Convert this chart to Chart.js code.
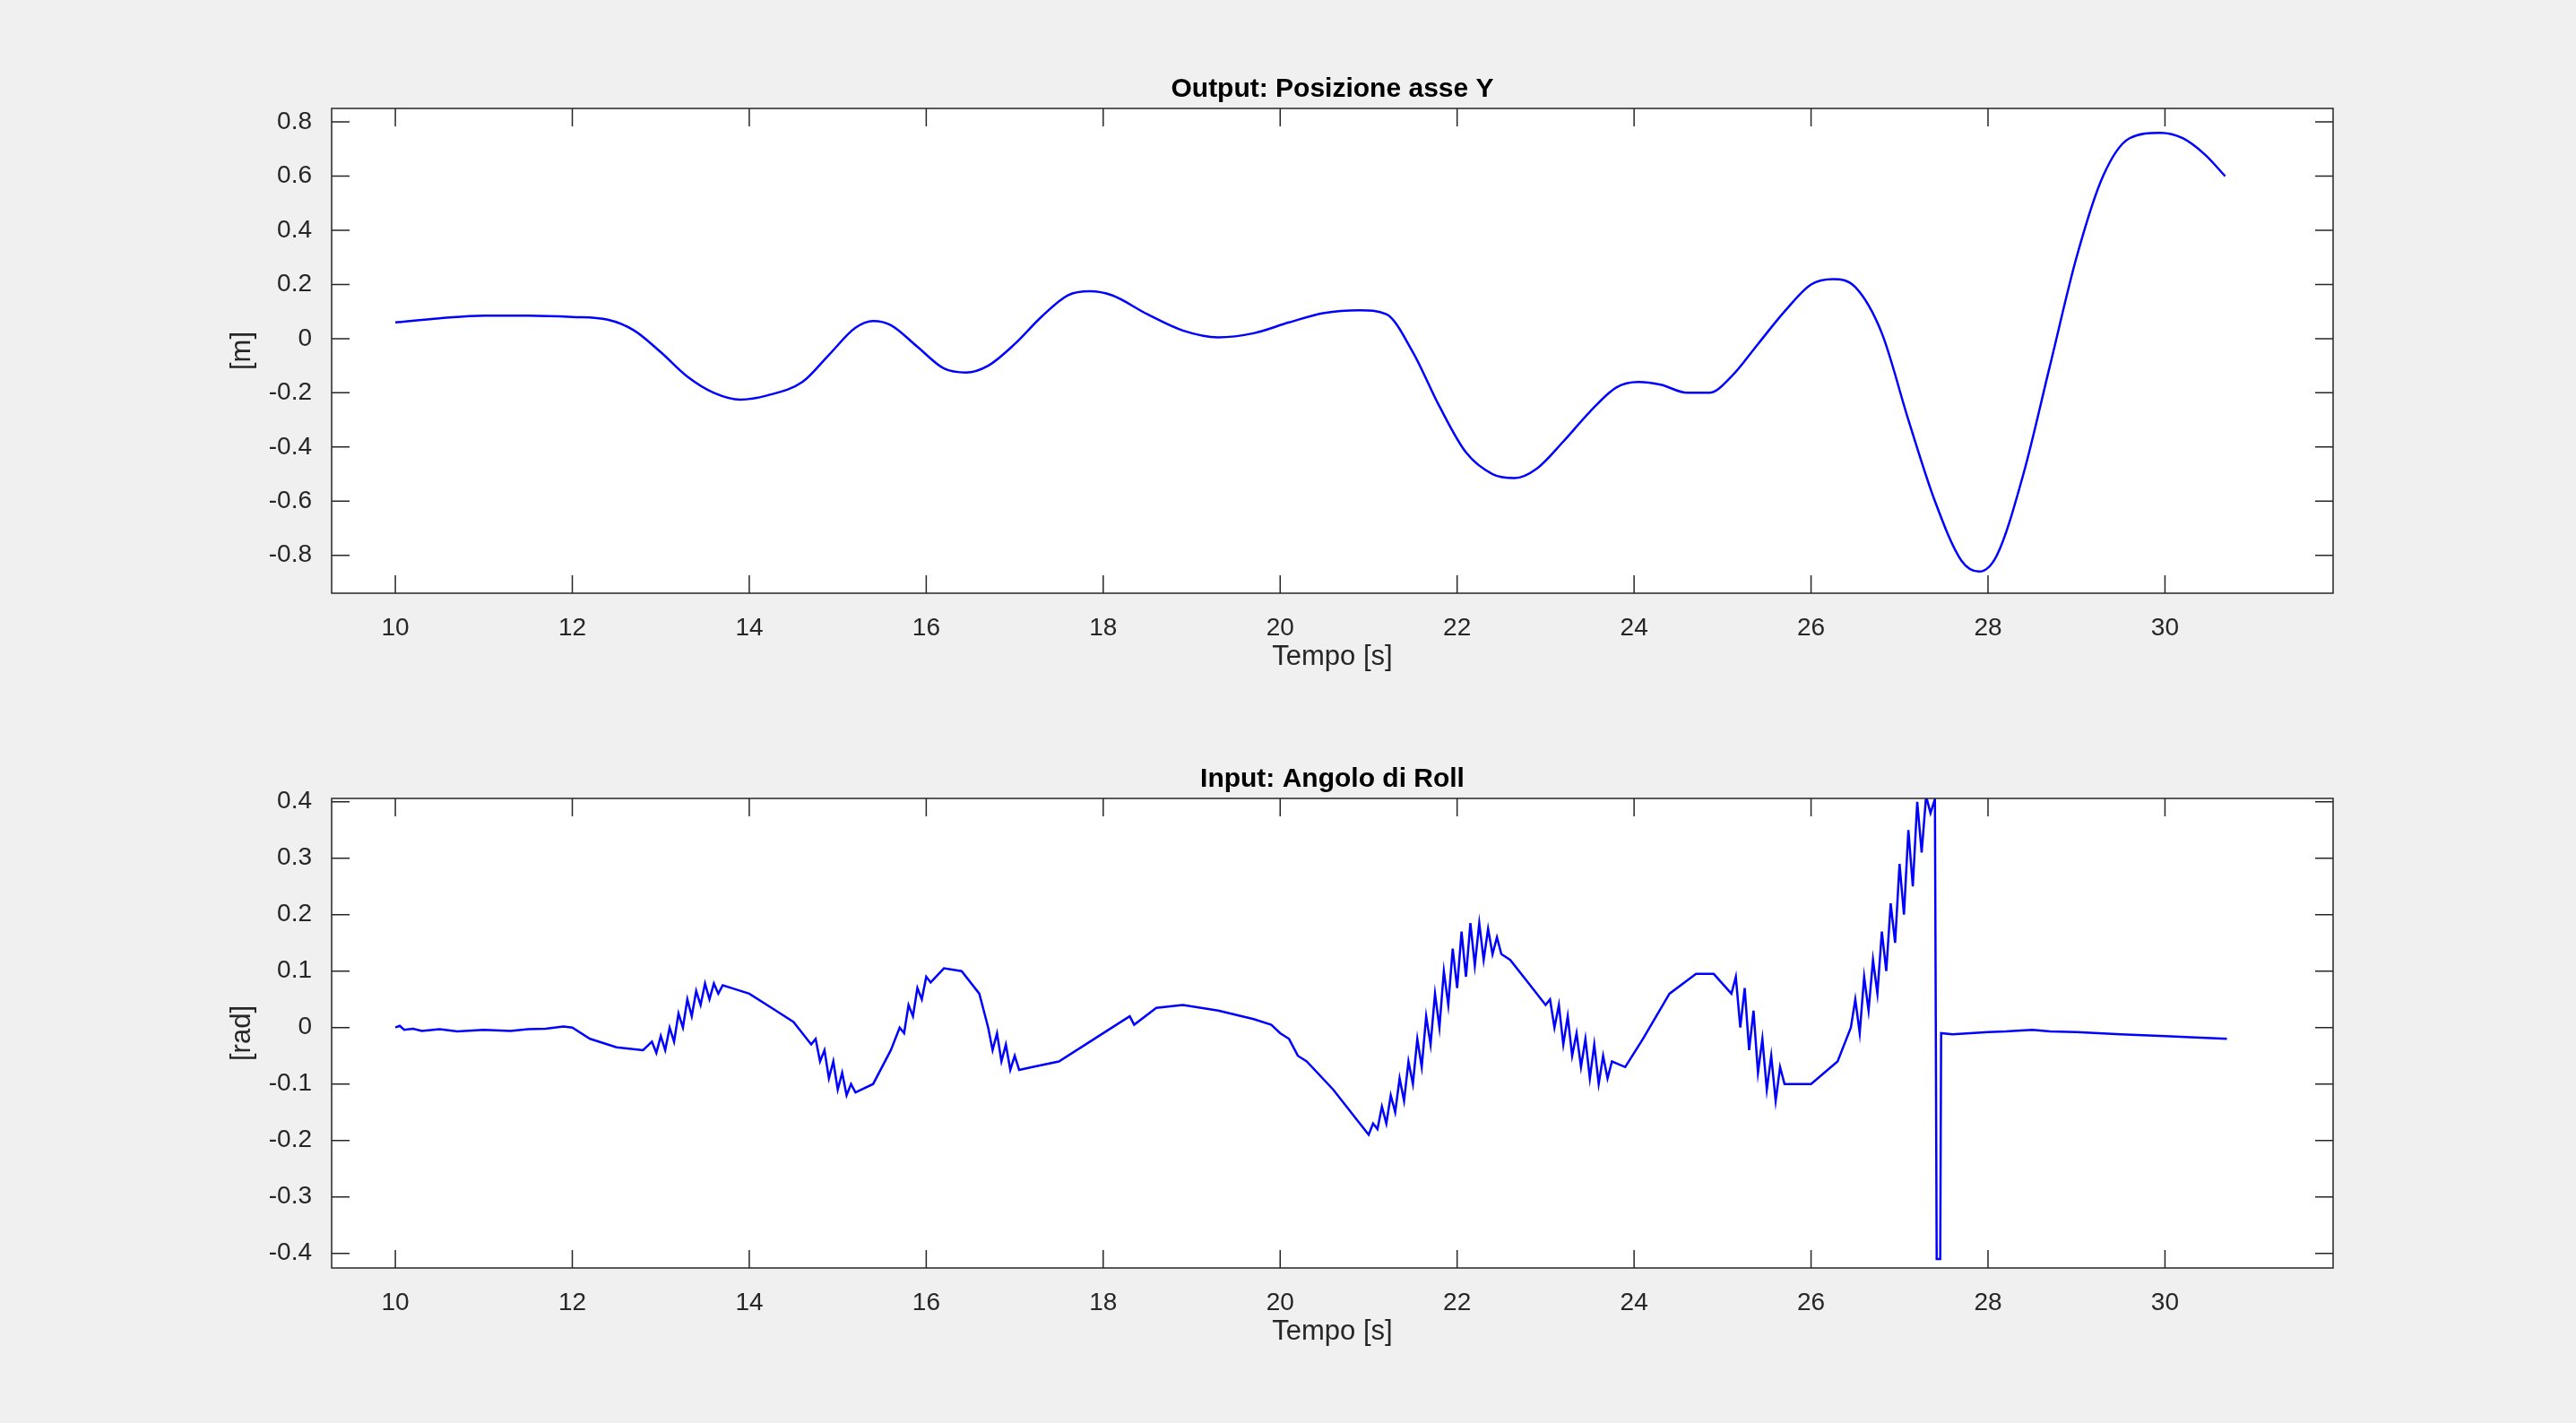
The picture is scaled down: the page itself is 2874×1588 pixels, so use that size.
<!DOCTYPE html>
<html><head><meta charset="utf-8">
<script src="https://cdn.jsdelivr.net/npm/chart.js@4"></script>
<style>
html,body{margin:0;padding:0;background:#f0f0f0;width:2874px;height:1588px;overflow:hidden}
.w{position:absolute;left:0;width:2874px;height:794px}
</style></head><body>
<div class="w" style="top:0"><canvas id="c1"></canvas></div>
<div class="w" style="top:794px"><canvas id="c2"></canvas></div>
<script>
const xTicks=[10,12,14,16,18,20,22,24,26,28,30];
const yTicksTop=[-0.8,-0.6,-0.4,-0.2,0,0.2,0.4,0.6,0.8];
const yTicksBot=[-0.4,-0.3,-0.2,-0.1,0,0.1,0.2,0.3,0.4];
const topSeries=[[10,0.06],[10.5,0.075],[11,0.085],[11.5,0.085],[12,0.08],[12.4,0.07],[12.7,0.03],[13,-0.05],[13.3,-0.14],[13.6,-0.2],[13.9,-0.225],[14.2,-0.21],[14.6,-0.16],[14.9,-0.06],[15.2,0.04],[15.4,0.065],[15.6,0.05],[15.9,-0.03],[16.2,-0.11],[16.45,-0.125],[16.7,-0.1],[17,-0.02],[17.3,0.08],[17.6,0.16],[17.85,0.175],[18.1,0.16],[18.5,0.09],[18.9,0.03],[19.3,0.005],[19.7,0.02],[20.1,0.06],[20.5,0.095],[20.9,0.105],[21.2,0.09],[21.5,-0.05],[21.8,-0.25],[22.1,-0.42],[22.4,-0.5],[22.65,-0.515],[22.9,-0.48],[23.2,-0.38],[23.5,-0.27],[23.8,-0.18],[24.05,-0.16],[24.3,-0.17],[24.6,-0.2],[24.85,-0.2],[25.1,-0.14],[25.4,-0.02],[25.7,0.1],[26,0.2],[26.25,0.22],[26.5,0.19],[26.8,0.02],[27.1,-0.3],[27.4,-0.6],[27.7,-0.82],[27.9,-0.86],[28.1,-0.8],[28.4,-0.5],[28.7,-0.1],[29,0.3],[29.3,0.6],[29.6,0.74],[29.95,0.76],[30.2,0.74],[30.45,0.68],[30.68,0.6]];
const botSeries=[[10,0],[10.05,0.003],[10.1,-0.004],[10.2,-0.002],[10.3,-0.006],[10.5,-0.003],[10.7,-0.007],[11,-0.004],[11.3,-0.006],[11.5,-0.003],[11.7,-0.002],[11.9,0.002],[12,0],[12.2,-0.02],[12.5,-0.035],[12.8,-0.04],
[12.9,-0.025],[12.95,-0.045],[13,-0.015],[13.05,-0.04],[13.1,0.0],[13.15,-0.025],[13.2,0.025],[13.25,0.0],[13.3,0.05],[13.35,0.02],[13.4,0.065],[13.45,0.04],[13.5,0.078],[13.55,0.05],[13.6,0.078],[13.65,0.06],[13.7,0.075],[13.8,0.07],[14,0.06],[14.3,0.03],[14.5,0.01],[14.6,-0.01],[14.7,-0.03],[14.75,-0.02],[14.8,-0.06],[14.85,-0.04],[14.9,-0.09],[14.95,-0.06],[15,-0.11],[15.05,-0.08],[15.1,-0.12],[15.15,-0.1],[15.2,-0.115],[15.4,-0.1],[15.6,-0.04],[15.7,0.0],[15.75,-0.01],[15.8,0.04],[15.85,0.02],[15.9,0.07],[15.95,0.05],[16,0.09],[16.05,0.08],[16.2,0.105],[16.4,0.1],[16.6,0.06],[16.65,0.03],[16.7,0.0],[16.75,-0.04],[16.8,-0.01],[16.85,-0.06],[16.9,-0.03],[16.95,-0.075],[17,-0.05],[17.05,-0.075],[17.2,-0.07],[17.5,-0.06],[17.8,-0.03],[18.2,0.01],[18.3,0.02],[18.35,0.005],[18.6,0.035],[18.9,0.04],[19.3,0.03],[19.7,0.015],[19.9,0.005],[20,-0.01],[20.1,-0.02],[20.2,-0.05],[20.3,-0.06],[20.6,-0.11],[20.9,-0.17],[21,-0.19],
[21.05,-0.17],[21.1,-0.18],[21.15,-0.14],[21.2,-0.17],[21.25,-0.12],[21.3,-0.15],[21.35,-0.09],[21.4,-0.13],[21.45,-0.06],[21.5,-0.1],[21.55,-0.02],[21.6,-0.07],[21.65,0.02],[21.7,-0.03],[21.75,0.06],[21.8,0.0],[21.85,0.1],[21.9,0.04],[21.95,0.14],[22,0.07],[22.05,0.17],[22.1,0.09],[22.15,0.185],[22.2,0.11],[22.25,0.185],[22.3,0.12],[22.35,0.175],[22.4,0.13],[22.45,0.16],[22.5,0.13],[22.6,0.12],[22.8,0.08],[23,0.04],[23.05,0.05],[23.1,0.0],[23.15,0.04],[23.2,-0.03],[23.25,0.02],[23.3,-0.05],[23.35,-0.01],[23.4,-0.07],[23.45,-0.02],[23.5,-0.09],[23.55,-0.03],[23.6,-0.1],[23.65,-0.05],[23.7,-0.09],[23.75,-0.06],[23.9,-0.07],[24.1,-0.02],[24.4,0.06],[24.7,0.095],[24.9,0.095],[25.1,0.06],[25.15,0.09],[25.2,0.0],[25.25,0.07],[25.3,-0.04],[25.35,0.03],[25.4,-0.08],[25.45,-0.02],[25.5,-0.11],[25.55,-0.05],[25.6,-0.13],[25.65,-0.07],[25.7,-0.1],[26,-0.1],[26.3,-0.06],[26.45,0.0],[26.5,0.05],[26.55,-0.01],[26.6,0.09],[26.65,0.03],[26.7,0.12],[26.75,0.06],[26.8,0.17],[26.85,0.1],[26.9,0.22],[26.95,0.15],[27,0.29],[27.05,0.2],[27.1,0.35],[27.15,0.25],[27.2,0.4],[27.25,0.31],[27.3,0.41],[27.35,0.38],[27.4,0.405],[27.42,-0.41],[27.46,-0.41],[27.47,-0.01],[27.6,-0.012],[28,-0.008],[28.2,-0.007],[28.5,-0.004],[28.7,-0.007],[29,-0.008],[29.5,-0.012],[30,-0.015],[30.4,-0.018],[30.7,-0.02]];
const FONT='Helvetica, "Liberation Sans", Arial, sans-serif';
function pts(s){return s.map(p=>({x:p[0],y:p[1]}));}
const deco={id:'deco',
 beforeDraw(ch){const a=ch.chartArea,c=ch.ctx;c.save();c.fillStyle='#fff';c.fillRect(a.left,a.top,a.right-a.left,a.bottom-a.top);c.restore();},
 afterDraw(ch){
  const o=ch.options.plugins.deco, a=ch.chartArea, c=ch.ctx, xs=ch.scales.x, ys=ch.scales.y;
  c.save();c.strokeStyle='#262626';c.lineWidth=1.5;
  c.strokeRect(a.left,a.top,a.right-a.left,a.bottom-a.top);
  c.beginPath();
  o.xt.forEach(v=>{const p=xs.getPixelForValue(v);c.moveTo(p,a.bottom);c.lineTo(p,a.bottom-20);c.moveTo(p,a.top);c.lineTo(p,a.top+20);});
  o.yt.forEach(v=>{const p=ys.getPixelForValue(v);c.moveTo(a.left,p);c.lineTo(a.left+20,p);c.moveTo(a.right,p);c.lineTo(a.right-20,p);});
  c.stroke();
  c.fillStyle='#000';c.textAlign='center';
  c.font='bold 30px '+FONT;c.textBaseline='bottom';c.fillText(o.title,(a.left+a.right)/2,a.top-6);
  c.fillStyle='#262626';c.font='31px '+FONT;c.textBaseline='top';c.fillText('Tempo [s]',(a.left+a.right)/2,a.bottom+56);
  c.translate(a.left-100,(a.top+a.bottom)/2);c.rotate(-Math.PI/2);c.textBaseline='middle';c.fillText(o.yl,0,0);
  c.restore();}};
function fmt(v){const r=Math.round(v*10)/10;return r===0?'0':String(r);}
function mk(id,s,tens,yt,ymin,ymax,top,xh,title,yl){
  new Chart(document.getElementById(id),{type:'line',
    data:{datasets:[{data:pts(s),borderColor:'#0000ff',borderWidth:2.5,pointRadius:0,tension:tens,cubicInterpolationMode:tens?'monotone':'default'}]},
    options:{responsive:true,maintainAspectRatio:false,animation:false,
      layout:{padding:{top:top,right:271,left:0,bottom:0}},
      plugins:{legend:{display:false},tooltip:{enabled:false},deco:{xt:xTicks,yt:yt,title:title,yl:yl}},
      scales:{
        x:{type:'linear',min:9.28,max:31.9,grid:{display:false},border:{display:false},
          afterBuildTicks:sc=>{sc.ticks=xTicks.map(v=>({value:v}));},
          afterFit:sc=>{sc.height=xh;},
          ticks:{color:'#262626',font:{size:28,family:FONT},padding:14,maxRotation:0,callback:v=>String(v)}},
        y:{min:ymin,max:ymax,grid:{display:false},border:{display:false},
          afterBuildTicks:sc=>{sc.ticks=yt.map(v=>({value:v}));},
          afterFit:sc=>{sc.width=370;},
          ticks:{color:'#262626',font:{size:28,family:FONT},padding:14,callback:v=>fmt(v)}}}},
    plugins:[deco]});
}
mk('c1',topSeries,0.35,yTicksTop,-0.94,0.85,121,132,'Output: Posizione asse Y','[m]');
mk('c2',botSeries,0,yTicksBot,-0.426,0.406,97,173,'Input: Angolo di Roll','[rad]');
</script></body></html>
